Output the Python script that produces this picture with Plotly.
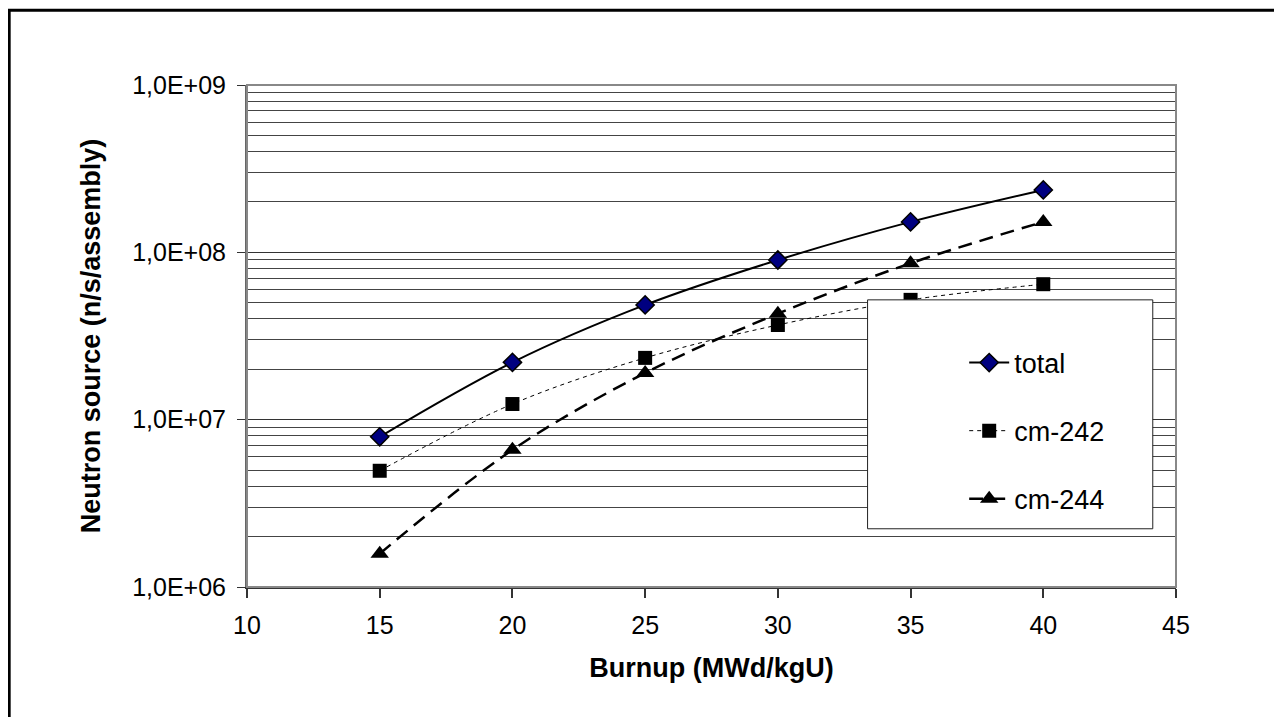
import plotly.graph_objects as go

burnup = [15, 20, 25, 30, 35, 40]
total = [7.9e6, 2.2e7, 4.85e7, 9.0e7, 1.52e8, 2.36e8]
cm242 = [4.95e6, 1.24e7, 2.34e7, 3.68e7, 5.2e7, 6.45e7]
cm244 = [1.58e6, 6.6e6, 1.9e7, 4.3e7, 8.6e7, 1.52e8]

y_tickvals = [1e6, 1e7, 1e8, 1e9]
y_ticktext = ["1,0E+06", "1,0E+07", "1,0E+08", "1,0E+09"]

FONT = "Liberation Sans, Arial, sans-serif"

fig = go.Figure()

fig.add_trace(go.Scatter(
    x=burnup, y=total, name="total", mode="lines+markers",
    line=dict(color="black", width=2, shape="spline", smoothing=1),
    marker=dict(symbol="diamond", size=14, color="#000080",
                line=dict(color="black", width=1.5)),
    legendgroup="a",
))
fig.add_trace(go.Scatter(
    x=burnup, y=cm242, name="cm-242", mode="lines+markers",
    line=dict(color="black", width=1, dash="4px,4px", shape="spline", smoothing=1),
    marker=dict(symbol="square", size=14, color="black"),
    legendgroup="b",
))
fig.add_trace(go.Scatter(
    x=burnup, y=cm244, name="cm-244", mode="lines+markers",
    line=dict(color="black", width=2.5, dash="14px,8px", shape="spline", smoothing=1),
    marker=dict(symbol="triangle-up", size=16, color="black"),
    legendgroup="c",
))

minor_vals = [m * 10 ** e for e in range(6, 9) for m in range(2, 10)]

# page body has an 8px margin; figure is sized to the remaining area
fig.update_layout(
    width=1266, height=709,
    paper_bgcolor="white", plot_bgcolor="white",
    margin=dict(l=239, r=98, t=77, b=130),
    font=dict(family=FONT, color="black", size=25),
    showlegend=True,
    legend=dict(
        x=0.772, y=0.495, xanchor="left", yanchor="top",
        bgcolor="rgba(0,0,0,0)", borderwidth=0,
        font=dict(size=27), tracegroupgap=30, itemwidth=40,
    ),
    xaxis=dict(
        range=[10, 45], dtick=5, showgrid=False, zeroline=False,
        showline=True, linecolor="#333", linewidth=2,
        ticks="outside", ticklen=9, tickcolor="#333", tickwidth=1.5,
        tickfont=dict(size=25), ticklabelstandoff=6,
        title=dict(text="<b>Burnup (MWd/kgU)</b>", font=dict(size=27), standoff=20),
    ),
    xaxis2=dict(
        overlaying="x", matches="x", range=[10, 45], dtick=5,
        showgrid=False, zeroline=False, showticklabels=False,
        ticks="inside", ticklen=8, tickcolor="#333", tickwidth=1.5,
    ),
    yaxis=dict(
        type="log", range=[6, 9], tickvals=y_tickvals, ticktext=y_ticktext,
        showgrid=True, gridcolor="#333", gridwidth=1,
        minor=dict(tickvals=minor_vals, showgrid=True, gridcolor="#444",
                   gridwidth=1, ticks=""),
        zeroline=False, showline=True, linecolor="#666", linewidth=2,
        ticks="outside", ticklen=8, tickcolor="#333",
        tickfont=dict(size=25), ticklabelstandoff=6,
        title=dict(text="<b>Neutron source (n/s/assembly)</b>",
                   font=dict(size=27), standoff=24),
    ),
    shapes=[
        # plot-area frame (top/right in grey)
        dict(type="rect", xref="paper", yref="paper", x0=0, x1=1, y0=0, y1=1,
             line=dict(color="#888", width=2), layer="above"),
        # legend box
        dict(type="rect", xref="paper", yref="paper", x0=0.668, x1=0.975,
             y0=0.116, y1=0.572, fillcolor="white",
             line=dict(color="#222", width=1), layer="above"),
        # outer chart frame
        dict(type="rect", xref="paper", yref="paper", x0=-0.2560, x1=1.3,
             y0=-0.4, y1=1.149, line=dict(color="black", width=3)),
    ],
)

fig.write_html("out.html")
